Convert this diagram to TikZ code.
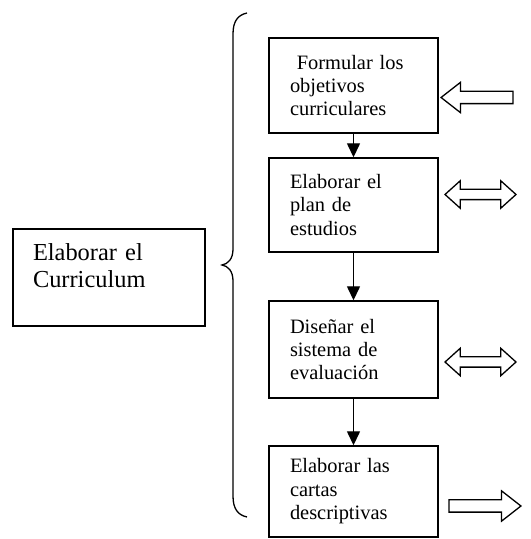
\documentclass[tikz,border=0pt]{standalone}
\usepackage{fontspec}
\setmainfont{Liberation Serif}
\usetikzlibrary{arrows.meta,shapes.arrows}
\tikzset{
  stepbox/.style={draw=black,line width=1.4bp,rectangle,align=left,
    text width=127bp,inner xsep=21bp,minimum width=169bp,
    font=\fontsize{20.5}{23.5}\selectfont},
  flow/.style={line width=1.4bp,-{Triangle[width=13bp,length=14bp]}},
  hollowone/.style={draw=black,line width=1.3bp,single arrow,inner sep=0pt,
    inner ysep=5.5bp,single arrow head extend=9bp,single arrow tip angle=76,
    minimum height=72bp},
  hollowtwo/.style={draw=black,line width=1.3bp,double arrow,inner sep=0pt,
    inner ysep=4.5bp,double arrow head extend=8.5bp,double arrow tip angle=84,
    minimum height=71bp},
}
\begin{document}
\begin{tikzpicture}[line join=miter]
  \useasboundingbox (0bp,0bp) rectangle (531bp,539bp);
%%
  % Node: curriculum
  \node[draw=black,line width=1.4bp,rectangle,align=left,text width=152bp,
    inner xsep=20bp,minimum width=192bp,minimum height=97bp,
    font=\fontsize{24.5}{28}\selectfont] (curriculum) at (109bp,261.5bp)
    {Elaborar el\\Curriculum\\[-4bp]\mbox{}};
  % Node: objetivos
  \node[stepbox,minimum height=95bp] (objetivos) at (353.5bp,453.5bp)
    {\ Formular los\\objetivos\\curriculares};
  % Node: plan
  \node[stepbox,minimum height=94bp] (plan) at (353.5bp,334bp)
    {Elaborar el\\plan de\\estudios};
  % Node: evaluacion
  \node[stepbox,minimum height=97bp] (evaluacion) at (353.5bp,189.5bp)
    {Diseñar el\\sistema de\\evaluación};
  % Node: cartas
  \node[stepbox,minimum height=91bp] (cartas) at (353.5bp,47.5bp)
    {Elaborar las\\cartas\\descriptivas};
%%
  % Edge: objetivos -> plan
  \draw[flow] (objetivos) -- (plan);
  % Edge: plan -> evaluacion
  \draw[flow] (plan) -- (evaluacion);
  % Edge: evaluacion -> cartas
  \draw[flow] (evaluacion) -- (cartas);
%%
  % Brace
  \draw[line width=1.3bp] (247bp,526bp) .. controls (238bp,524bp) and (233bp,518bp) .. (233bp,505bp)
    -- (233bp,290bp) .. controls (233bp,280bp) and (228bp,275bp) .. (222bp,274bp)
    .. controls (228bp,273bp) and (233bp,268bp) .. (233bp,258bp)
    -- (233bp,43bp) .. controls (233bp,30bp) and (238bp,24bp) .. (247bp,22bp);
%%
  % Hollow arrows
  \node[hollowone,shape border rotate=180] (inobj) at (481bp,441.5bp) {};
  \node[hollowtwo] (ioplan) at (480.5bp,344.5bp) {};
  \node[hollowtwo] (ioeval) at (480.5bp,177bp) {};
  \node[hollowone] (outcartas) at (481bp,33bp) {};
%
\end{tikzpicture}
\end{document}
